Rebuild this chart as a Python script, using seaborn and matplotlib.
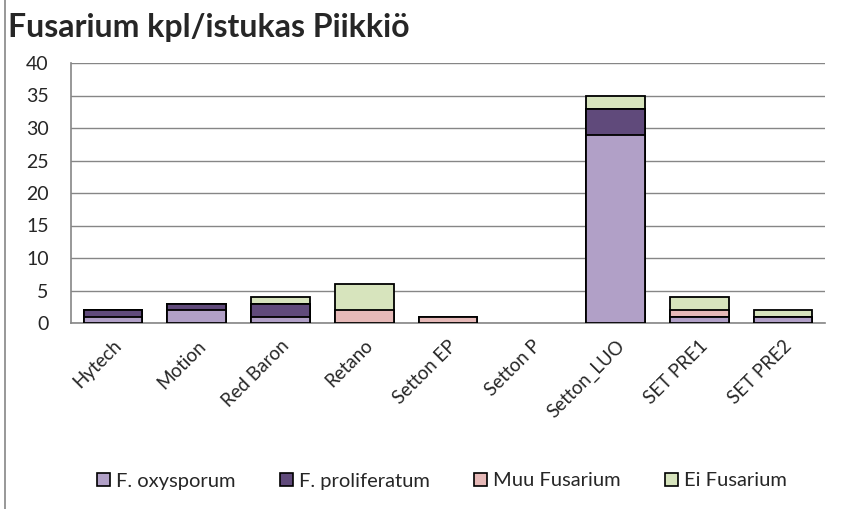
import numpy as np
import pandas as pd
import matplotlib
matplotlib.use("Agg")
import matplotlib.pyplot as plt
import seaborn as sns
from matplotlib.lines import Line2D
from matplotlib.patches import Patch

categories = ["Hytech", "Motion", "Red Baron", "Retano", "Setton EP",
              "Setton P", "Setton_LUO", "SET PRE1", "SET PRE2"]
oxysporum = [1, 2, 1, 0, 0, 0, 29, 1, 1]
proliferatum = [1, 1, 2, 0, 0, 0, 4, 0, 0]
muu = [0, 0, 0, 2, 1, 0, 0, 1, 0]
ei = [0, 0, 1, 4, 0, 0, 2, 2, 1]
series_names = ["F. oxysporum", "F. proliferatum", "Muu Fusarium", "Ei Fusarium"]
colors = ["#B1A0C7", "#604A7B", "#E6B9B8", "#D7E4BD"]

sns.set_style("white")
plt.rcParams["font.family"] = ["Lato", "DejaVu Sans"]

df = pd.DataFrame({"Lajike": categories,
                   series_names[0]: oxysporum,
                   series_names[1]: proliferatum,
                   series_names[2]: muu,
                   series_names[3]: ei})

# cumulative sums for stacking (draw the tallest layer first)
cum = df[series_names].cumsum(axis=1)

fig = plt.figure(figsize=(8.53, 5.09), dpi=100)
ax = fig.add_axes([71 / 853, 1 - 323 / 509, (825 - 71) / 853, (323 - 63) / 509])

for name, color in reversed(list(zip(series_names, colors))):
    layer = pd.DataFrame({"Lajike": categories, "val": cum[name].replace(0, np.nan)})
    sns.barplot(data=layer, x="Lajike", y="val", order=categories, color=color,
                saturation=1, edgecolor="black", linewidth=1.3, width=0.7,
                errorbar=None, ax=ax, zorder=3)

grid_col = "#868686"
ax.set_ylim(0, 40)
ax.set_xlim(-0.5, len(categories) - 0.5)
ax.set_yticks(range(0, 41, 5))
ax.yaxis.grid(True, color=grid_col, linewidth=1, zorder=0)
ax.set_axisbelow(True)
ax.set_xlabel("")
ax.set_ylabel("")
for s in ["top", "right"]:
    ax.spines[s].set_visible(False)
for s in ["left", "bottom"]:
    ax.spines[s].set_color(grid_col)
    ax.spines[s].set_linewidth(1.2)

ax.tick_params(axis="y", length=6, width=1, color=grid_col, labelsize=14, pad=10)
ax.set_xticks(np.arange(-0.5, len(categories), 1), minor=True)
ax.tick_params(axis="x", which="major", length=0, labelsize=13.5, pad=10)
ax.tick_params(axis="x", which="minor", length=6, width=1, color=grid_col)
ax.set_xticklabels(categories, rotation=45, ha="right", va="top", rotation_mode="anchor")

fig.text(8 / 853, 1 - 27 / 509, "Fusarium kpl/istukas Piikkiö", fontsize=23,
         fontweight="bold", va="center", ha="left")

handles = [Patch(facecolor=c, edgecolor="black", linewidth=1.2) for c in colors]
fig.legend(handles, series_names, loc="center", bbox_to_anchor=(442 / 853, 1 - 481 / 509),
           ncol=4, frameon=False, fontsize=14.5, handlelength=0.65, handleheight=0.65,
           handletextpad=0.3, columnspacing=2.2)

fig.add_artist(Line2D([5 / 853, 5 / 853], [0, 1], color="#868686", linewidth=1.2))

fig.savefig("out.png", dpi=100)
